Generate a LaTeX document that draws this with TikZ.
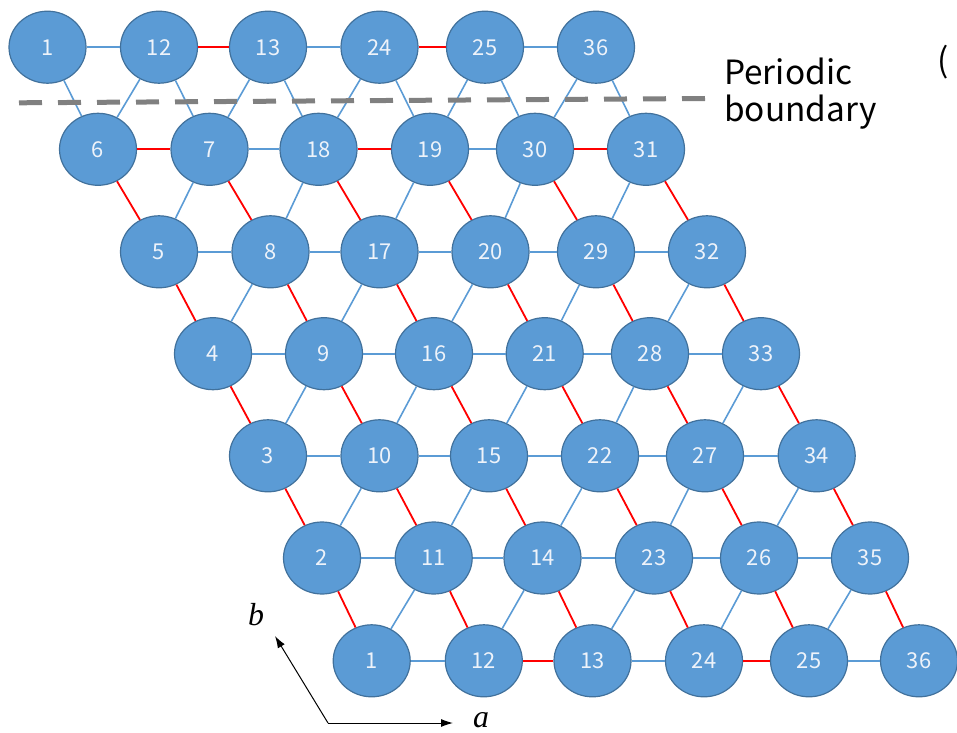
\documentclass[tikz,border=0pt]{standalone}
\usepackage{fontspec}
\setmainfont{Liberation Serif}
\newfontfamily\labfont{Noto Sans CJK JP}
\usetikzlibrary{shapes.geometric,arrows.meta}
\definecolor{nodefill}{HTML}{5B9BD5}
\definecolor{nodeedge}{HTML}{41719C}
\definecolor{bondblue}{HTML}{5B9BD5}
\definecolor{bondred}{HTML}{FF0000}
\definecolor{dashgray}{HTML}{808080}
\definecolor{numtext}{HTML}{EEF3FA}
\tikzset{
  site/.style={ellipse, draw=nodeedge, fill=nodefill, line width=1.2bp,
    minimum width=77bp, minimum height=72bp, inner sep=0pt,
    text=numtext, font=\labfont\fontsize{22}{26}\selectfont},
  bb/.style={draw=bondblue, line width=1.6bp},
  br/.style={draw=bondred, line width=1.8bp},
  boundary/.style={draw=dashgray, line width=5bp, dash pattern=on 23bp off 16bp},
  lbl/.style={inner sep=0pt, font=\labfont\fontsize{33.5}{38}\selectfont, text=black},
  axlbl/.style={inner sep=0pt, font=\itshape\fontsize{32}{38}\selectfont},
  axarrow/.style={draw=black, line width=1bp, -{Latex[length=12bp,width=8bp]}}
}
\begin{document}
\begin{tikzpicture}[x=1bp,y=-1bp]
\useasboundingbox (0,0) rectangle (957,733);
% top row (periodic image)
\node[site] (t1)  at (47.5,47.2) {1};
\node[site] (t12) at (159,47.2) {12};
\node[site] (t13) at (268,47.2) {13};
\node[site] (t24) at (379.5,47.2) {24};
\node[site] (t25) at (485,47.2) {25};
\node[site] (t36) at (596,47.2) {36};
% row 6
\node[site] (n6)  at (98,149.3) {6};
\node[site] (n7)  at (209.5,149.3) {7};
\node[site] (n18) at (318.5,149.3) {18};
\node[site] (n19) at (430,149.3) {19};
\node[site] (n30) at (535,149.3) {30};
\node[site] (n31) at (646,149.3) {31};
% row 5
\node[site] (n5)  at (159,251.8) {5};
\node[site] (n8)  at (270.5,251.8) {8};
\node[site] (n17) at (379.5,251.8) {17};
\node[site] (n20) at (490.5,251.8) {20};
\node[site] (n29) at (596,251.8) {29};
\node[site] (n32) at (707,251.8) {32};
% row 4
\node[site] (n4)  at (213,353.7) {4};
\node[site] (n9)  at (324,353.7) {9};
\node[site] (n16) at (434,353.7) {16};
\node[site] (n21) at (544.7,353.7) {21};
\node[site] (n28) at (650,353.7) {28};
\node[site] (n33) at (761,353.7) {33};
% row 3
\node[site] (n3)  at (268,455.8) {3};
\node[site] (n10) at (379.5,455.8) {10};
\node[site] (n15) at (489,455.8) {15};
\node[site] (n22) at (600,455.8) {22};
\node[site] (n27) at (705,455.8) {27};
\node[site] (n34) at (816.7,455.8) {34};
% row 2
\node[site] (n2)  at (322,558) {2};
\node[site] (n11) at (433.7,558) {11};
\node[site] (n14) at (542.5,558) {14};
\node[site] (n23) at (654,558) {23};
\node[site] (n26) at (759,558) {26};
\node[site] (n35) at (870,558) {35};
% row 1
\node[site] (b1)  at (371.7,660.8) {1};
\node[site] (b12) at (483.8,660.8) {12};
\node[site] (b13) at (592.5,660.8) {13};
\node[site] (b24) at (704,660.8) {24};
\node[site] (b25) at (809,660.8) {25};
\node[site] (b36) at (919,660.8) {36};
% blue bonds
\foreach \a/\b in {b1/b12,b13/b24,b25/b36,
  n2/n11,n11/n14,n14/n23,n23/n26,n26/n35,
  n3/n10,n10/n15,n15/n22,n22/n27,n27/n34,
  n4/n9,n9/n16,n16/n21,n21/n28,n28/n33,
  n5/n8,n8/n17,n17/n20,n20/n29,n29/n32,
  n7/n18,n19/n30,
  t1/t12,t13/t24,t25/t36,
  t1/n6,t12/n7,t13/n18,t24/n19,t25/n30,t36/n31,
  t12/n6,t13/n7,t24/n18,t25/n19,t36/n30,
  n7/n5,n18/n8,n19/n17,n30/n20,n31/n29,
  n8/n4,n17/n9,n20/n16,n29/n21,n32/n28,
  n9/n3,n16/n10,n21/n15,n28/n22,n33/n27,
  n10/n2,n15/n11,n22/n14,n27/n23,n34/n26,
  n11/b1,n14/b12,n23/b13,n26/b24,n35/b25}
  \draw[bb] (\a) -- (\b);
% red bonds
\foreach \a/\b in {b12/b13,b24/b25,
  n6/n7,n18/n19,n30/n31,
  t12/t13,t24/t25,
  n6/n5,n7/n8,n18/n17,n19/n20,n30/n29,n31/n32,
  n5/n4,n8/n9,n17/n16,n20/n21,n29/n28,n32/n33,
  n4/n3,n9/n10,n16/n15,n21/n22,n28/n27,n33/n34,
  n3/n2,n10/n11,n15/n14,n22/n23,n27/n26,n34/n35,
  n2/b1,n11/b12,n14/b13,n23/b24,n26/b25,n35/b36}
  \draw[br] (\a) -- (\b);
% periodic boundary
\coordinate (pbl) at (19,102.8);
\coordinate (pbr) at (705,98.5);
\draw[boundary] (pbl) -- (pbr);
\node[lbl, anchor=base west] (per1) at (724,85) {Periodic};
\node[lbl, anchor=base west] (per2) at (724,122) {boundary};
\node[lbl, anchor=base west] (paren) at (937,73) {(};
% axes
\coordinate (o) at (328,723);
\coordinate (ax) at (453,723);
\coordinate (bx) at (275,636);
\draw[axarrow] (o) -- (ax);
\draw[axarrow] (o) -- (bx);
\node[axlbl, anchor=base west] (la) at (473,727) {a};
\node[axlbl, anchor=base west] (lb) at (248,625) {b};
\end{tikzpicture}
\end{document}
